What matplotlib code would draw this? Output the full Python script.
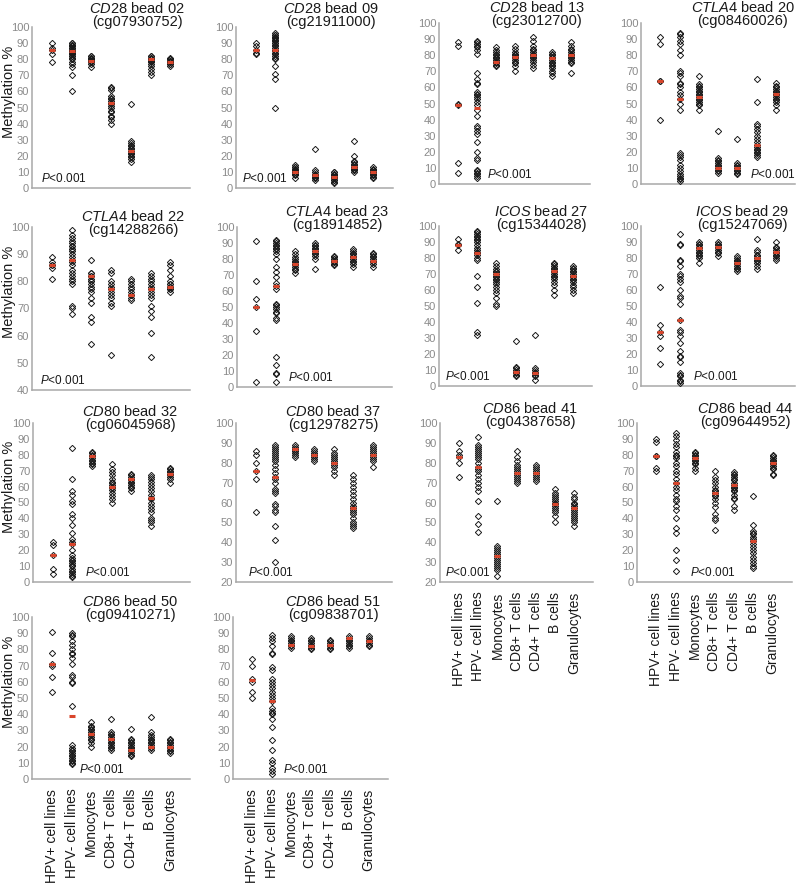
import matplotlib
matplotlib.use("Agg")
import matplotlib.pyplot as plt
import numpy as np

plt.rcParams['font.family'] = ['Liberation Sans', 'DejaVu Sans']
plt.rcParams['mathtext.fontset'] = 'custom'
plt.rcParams['mathtext.rm'] = 'Liberation Sans'
plt.rcParams['mathtext.it'] = 'Liberation Sans:italic'

groups = ['HPV+ cell lines', 'HPV- cell lines', 'Monocytes', 'CD8+ T cells',
          'CD4+ T cells', 'B cells', 'Granulocytes']

# methylation values per group, and the red medians
cd28_b02 = [[78, 83, 86, 87, 90],
            [60, 70, 75, 77, 78, 80, 81, 82, 83, 83, 84, 85, 85, 86, 86, 87, 87, 88, 88, 89, 89, 90, 90, 84, 82, 86],
            [75, 77, 78, 78, 79, 79, 80, 80, 80, 81, 81, 82, 82, 79, 80],
            [40, 42, 44, 45, 47, 48, 50, 51, 52, 53, 54, 55, 56, 57, 61, 62, 63],
            [16, 18, 19, 20, 21, 22, 22, 23, 24, 25, 26, 27, 28, 29, 52],
            [70, 72, 74, 76, 77, 78, 79, 80, 80, 81, 81, 82, 82, 79],
            [76, 77, 77, 78, 78, 79, 79, 80, 80, 81, 78, 79]]
cd28_b02_med = [86, 85, 79, 53, 23, 80, 78]

cd28_b09 = [[83, 84, 86, 88, 90],
            [50, 68, 71, 76, 80, 81, 82, 83, 84, 85, 86, 87, 88, 89, 90, 90, 91, 92, 92, 93, 93, 94, 94, 95, 95, 96],
            [6, 8, 9, 10, 10, 11, 11, 12, 12, 13, 13, 14, 9, 10],
            [5, 6, 6, 7, 7, 8, 8, 9, 10, 11, 24],
            [3, 4, 5, 5, 6, 6, 7, 7, 8, 8, 9, 10, 10],
            [10, 11, 11, 12, 12, 13, 13, 14, 15, 16, 17, 20, 29],
            [6, 7, 8, 8, 9, 9, 10, 10, 11, 11, 12, 13]]
cd28_b09_med = [86, 86, 10, 8, 7, 13, 10]

cd28_b13 = [[7, 13, 49, 50, 86, 88],
            [4, 5, 6, 7, 8, 9, 15, 16, 20, 26, 31, 33, 35, 36, 42, 46, 49, 51, 53, 54, 55, 56, 57, 62, 63, 65, 69, 81, 83, 85, 86, 87, 88, 89],
            [73, 74, 75, 76, 77, 78, 79, 80, 81, 82, 83, 85, 76, 78],
            [70, 73, 75, 76, 77, 78, 79, 80, 80, 81, 82, 84, 86],
            [72, 74, 76, 77, 78, 79, 80, 80, 81, 82, 83, 84, 86, 89, 91],
            [67, 69, 70, 72, 73, 74, 75, 76, 77, 78, 79, 80, 81, 82],
            [69, 75, 76, 77, 78, 79, 80, 80, 81, 82, 83, 84, 86, 88]]
cd28_b13_med = [49, 47, 76, 79, 80, 78, 80]

ctla4_b20 = [[40, 64, 64, 87, 91],
             [2, 3, 4, 5, 6, 8, 10, 12, 15, 17, 18, 19, 46, 50, 53, 55, 57, 60, 62, 63, 67, 69, 70, 80, 83, 87, 89, 91, 93, 94],
             [46, 49, 50, 51, 52, 53, 54, 55, 56, 57, 58, 59, 60, 61, 62, 67],
             [7, 8, 9, 10, 11, 12, 13, 14, 15, 16, 33],
             [6, 7, 8, 9, 10, 11, 12, 13, 28],
             [17, 18, 19, 20, 21, 22, 23, 24, 26, 28, 30, 32, 34, 36, 37, 51, 65],
             [46, 49, 51, 52, 53, 54, 55, 56, 57, 58, 59, 60, 61, 63]]
ctla4_b20_med = [64, 53, 54, 10, 10, 24, 56]

ctla4_b22 = [[81, 85, 86, 86, 87, 89],
             [68, 70, 71, 79, 80, 81, 82, 83, 84, 86, 87, 88, 89, 90, 91, 92, 93, 94, 95, 96, 97, 99, 92, 93],
             [57, 65, 67, 72, 74, 76, 77, 78, 79, 80, 80, 81, 82, 82, 83, 83, 88],
             [53, 71, 72, 74, 75, 76, 77, 78, 79, 80, 83, 84],
             [73, 74, 75, 75, 76, 77, 78, 79, 80, 81],
             [52, 61, 67, 69, 71, 74, 75, 76, 77, 78, 79, 80, 81, 82, 83],
             [76, 77, 77, 78, 78, 78, 79, 79, 80, 82, 84, 86, 87]]
ctla4_b22_med = [86, 88, 82, 77, 75, 77, 78]

ctla4_b23 = [[3, 35, 50, 55, 66, 91],
             [3, 8, 9, 14, 19, 42, 43, 46, 47, 49, 50, 51, 52, 61, 63, 65, 69, 72, 75, 80, 83, 85, 86, 87, 88, 89, 90, 91, 92],
             [71, 73, 74, 75, 76, 77, 78, 79, 80, 81, 83, 85],
             [74, 80, 82, 83, 84, 85, 86, 87, 88, 89, 90],
             [76, 77, 78, 78, 79, 79, 80, 80, 81, 82],
             [75, 77, 78, 79, 80, 81, 82, 83, 84, 85, 86],
             [75, 77, 78, 79, 80, 81, 82, 83, 84]]
ctla4_b23_med = [50, 63, 77, 85, 79, 81, 79]

icos_b27 = [[85, 88, 89, 92],
            [32, 34, 52, 62, 69, 79, 80, 82, 83, 84, 85, 86, 88, 90, 91, 92, 93, 94, 95, 96, 97],
            [50, 51, 55, 58, 60, 62, 64, 65, 66, 67, 68, 69, 70, 71, 72, 73, 75, 77],
            [6, 7, 8, 9, 9, 10, 11, 12, 28],
            [4, 6, 7, 8, 9, 10, 11, 32],
            [57, 60, 63, 65, 67, 68, 69, 70, 71, 72, 73, 74, 75, 76, 77],
            [58, 60, 62, 63, 65, 66, 67, 68, 69, 70, 71, 72, 73, 74, 75]]
icos_b27_med = [88, 83, 70, 9, 8, 72, 69]

icos_b29 = [[14, 24, 31, 34, 38, 62],
            [2, 3, 4, 6, 7, 8, 15, 18, 19, 22, 27, 31, 34, 35, 41, 51, 55, 56, 60, 65, 67, 69, 70, 75, 78, 79, 88, 89, 95],
            [77, 80, 81, 82, 83, 84, 85, 86, 87, 88, 89, 90],
            [81, 83, 84, 85, 86, 87, 88, 89, 90],
            [72, 73, 74, 75, 76, 77, 78, 79, 80, 81],
            [73, 75, 77, 78, 79, 80, 81, 82, 84, 85, 92],
            [79, 80, 81, 82, 83, 84, 85, 86, 87, 90]]
icos_b29_med = [34, 41, 86, 87, 77, 80, 84]

cd80_b32 = [[5, 8, 17, 23, 25],
            [3, 4, 5, 6, 7, 8, 10, 11, 12, 13, 14, 15, 17, 20, 24, 25, 27, 31, 36, 40, 43, 49, 51, 55, 57, 65, 84],
            [73, 74, 75, 76, 77, 78, 79, 80, 81, 82],
            [50, 52, 54, 56, 58, 59, 60, 61, 62, 63, 65, 67, 69, 71, 74],
            [57, 59, 60, 61, 62, 63, 64, 65, 66, 67, 68],
            [35, 38, 39, 40, 44, 46, 48, 50, 52, 53, 55, 57, 59, 61, 63, 65, 66, 67],
            [62, 65, 66, 67, 68, 69, 70, 71, 72]]
cd80_b32_med = [17, 24, 79, 60, 65, 53, 68]

cd80_b37 = [[55, 72, 76, 80, 84, 86],
            [30, 41, 48, 55, 56, 58, 59, 65, 66, 67, 70, 72, 73, 75, 77, 79, 81, 82, 83, 84, 85, 86, 87, 88, 89],
            [83, 84, 85, 86, 87, 88, 89, 86, 87],
            [81, 82, 83, 84, 85, 86, 87, 84],
            [74, 76, 78, 79, 80, 81, 82, 83, 84, 85, 87],
            [47, 48, 49, 50, 52, 54, 55, 56, 57, 58, 60, 62, 64, 66, 68, 70, 72, 74],
            [78, 81, 82, 83, 84, 85, 86, 87, 88, 89]]
cd80_b37_med = [76, 73, 87, 84, 80, 57, 84]

cd86_b41 = [[73, 80, 83, 84, 86, 90],
            [45, 49, 53, 61, 66, 68, 70, 72, 74, 76, 77, 78, 80, 82, 83, 84, 85, 86, 87, 88, 89, 93],
            [23, 26, 27, 28, 29, 30, 31, 32, 33, 34, 35, 36, 37, 38, 61],
            [70, 71, 72, 73, 74, 75, 76, 77, 78, 79, 81, 83, 86],
            [71, 72, 73, 74, 75, 76, 77, 78, 79],
            [50, 53, 55, 56, 57, 58, 59, 60, 61, 62, 63, 64, 65, 67],
            [48, 50, 51, 52, 53, 54, 55, 56, 57, 58, 59, 60, 62, 63, 65]]
cd86_b41_med = [83, 78, 33, 75, 75, 59, 57]

cd86_b44 = [[70, 72, 79, 79, 88, 90],
            [7, 14, 20, 31, 34, 40, 45, 48, 51, 52, 55, 58, 60, 62, 65, 68, 70, 73, 75, 78, 79, 80, 82, 85, 87, 89, 92, 94],
            [70, 72, 74, 75, 76, 77, 78, 79, 80, 81, 82],
            [33, 39, 40, 43, 47, 50, 52, 54, 55, 56, 57, 58, 60, 62, 64, 66, 70],
            [45, 48, 52, 53, 55, 57, 58, 59, 60, 61, 62, 64, 65, 66, 67, 68, 69],
            [9, 10, 12, 14, 16, 18, 20, 22, 24, 26, 27, 28, 30, 31, 32, 36, 54],
            [67, 68, 71, 72, 73, 74, 75, 76, 77, 78, 79, 80]]
cd86_b44_med = [79, 62, 78, 56, 61, 26, 75]

cd86_b50 = [[54, 63, 70, 71, 78, 91],
            [9, 10, 11, 12, 13, 14, 15, 16, 17, 18, 19, 21, 45, 59, 60, 63, 64, 71, 75, 77, 78, 80, 83, 85, 88, 89, 90],
            [20, 22, 24, 25, 26, 27, 28, 29, 30, 31, 32, 33, 35],
            [18, 19, 20, 21, 22, 23, 24, 25, 26, 27, 28, 29, 37],
            [14, 15, 16, 17, 18, 19, 20, 21, 22, 23, 24, 25, 31],
            [18, 19, 20, 21, 22, 23, 24, 25, 26, 27, 29, 38],
            [16, 17, 18, 19, 20, 21, 22, 23, 24, 25]]
cd86_b50_med = [71, 39, 28, 25, 18, 20, 20]

cd86_b51 = [[50, 54, 60, 62, 70, 74],
            [3, 5, 7, 10, 12, 18, 24, 32, 37, 40, 41, 42, 44, 48, 50, 52, 54, 56, 58, 60, 62, 67, 69, 77, 78, 82, 85, 87, 89],
            [81, 82, 83, 84, 85, 86, 87, 88],
            [80, 81, 82, 83, 84, 85, 86, 87],
            [80, 81, 82, 83, 84, 85, 86],
            [81, 82, 83, 84, 85, 86, 87, 88],
            [82, 83, 84, 85, 86, 87, 88]]
cd86_b51_med = [61, 48, 83, 82, 83, 87, 85]

genes = ['CD28', 'CD28', 'CD28', 'CTLA4', 'CTLA4', 'CTLA4', 'ICOS', 'ICOS',
         'CD80', 'CD80', 'CD86', 'CD86', 'CD86', 'CD86']
beads = ['02', '09', '13', '20', '22', '23', '27', '29', '32', '37', '41', '44', '50', '51']
probes = ['cg07930752', 'cg21911000', 'cg23012700', 'cg08460026', 'cg14288266',
          'cg18914852', 'cg15344028', 'cg15247069', 'cg06045968', 'cg12978275',
          'cg04387658', 'cg09644952', 'cg09410271', 'cg09838701']
y_low = [0, 0, 0, 0, 40, 0, 0, 0, 0, 20, 20, 0, 0, 0]

panel_data = [cd28_b02, cd28_b09, cd28_b13, ctla4_b20, ctla4_b22, ctla4_b23, icos_b27,
              icos_b29, cd80_b32, cd80_b37, cd86_b41, cd86_b44, cd86_b50, cd86_b51]
panel_med = [cd28_b02_med, cd28_b09_med, cd28_b13_med, ctla4_b20_med, ctla4_b22_med,
             ctla4_b23_med, icos_b27_med, icos_b29_med, cd80_b32_med, cd80_b37_med,
             cd86_b41_med, cd86_b44_med, cd86_b50_med, cd86_b51_med]

# layout in pixels: left, top, right, bottom of each plot box
W, H = 800, 889
boxes = [(32, 27, 190, 188), (236, 27, 393, 188), (439, 23, 590, 184), (641, 23, 795, 184),
         (32, 227, 190, 390), (237, 227, 392, 387), (439, 226, 592, 386), (641, 226, 795, 386),
         (33, 423, 190, 582), (236, 423, 392, 582), (440, 423, 593, 582), (637, 423, 792, 582),
         (32, 617, 190, 779), (233, 617, 388, 779)]
title_x = [137, 331, 537, 743, 133, 337, 541, 742, 130, 333, 530, 745, 130, 333]
title_y = [22, 22, 21, 21, 230, 225, 225, 225, 425, 425, 422, 422, 615, 615]
p_x = [0.06, 0.04, 0.32, 0.71, 0.05, 0.33, 0.04, 0.34, 0.33, 0.08, 0.03, 0.34, 0.30, 0.32]
with_xlabels = [10, 11, 12, 13]
with_ylabel = [0, 4, 8, 12]

fig = plt.figure(figsize=(8, 8.89), dpi=100)

for i in range(14):
    l, t, r, b = boxes[i]
    ax = fig.add_axes([l / W, 1 - b / H, (r - l) / W, (b - t) / H])
    for j, vals in enumerate(panel_data[i]):
        ax.plot([j + 1] * len(vals), vals, 'D', ms=3.2, mfc='none', mec='#1a1a1a',
                mew=0.7, clip_on=False, zorder=3)
    ax.plot(range(1, 8), panel_med[i], '_', ms=5, mew=2.2, color='#d9452b',
            clip_on=False, zorder=4)
    ax.set_xlim(0, 8)
    ax.set_ylim(y_low[i], 100)
    ax.set_yticks(np.arange(y_low[i], 101, 10))
    ax.set_xticks(range(1, 8))
    if i in with_xlabels:
        ax.set_xticklabels(groups, rotation=90, fontsize=10, color='#1a1a1a')
    else:
        ax.set_xticklabels([])
    ax.tick_params(axis='y', length=0, pad=2, labelsize=8, labelcolor='#8a8a8a')
    ax.tick_params(axis='x', length=0, pad=7)
    for s in ['top', 'right']:
        ax.spines[s].set_visible(False)
    for s in ['left', 'bottom']:
        ax.spines[s].set_color('#a8a8a8')
        ax.spines[s].set_linewidth(1.1)
    if i in with_ylabel:
        ax.set_ylabel('Methylation %', fontsize=10.5, color='#1a1a1a')
        ax.yaxis.set_label_coords((16 - l) / (r - l), 0.6)
    ax.text(p_x[i], 0.02, r'$\mathit{P}$<0.001', transform=ax.transAxes,
            fontsize=8.5, ha='left', va='bottom', color='#1a1a1a')
    fig.text(title_x[i] / W, 1 - (title_y[i] - 13.5) / H,
             r'$\mathit{' + genes[i] + '}$ bead ' + beads[i],
             fontsize=10.5, ha='center', va='center', color='#1a1a1a')
    fig.text(title_x[i] / W, 1 - title_y[i] / H, '(' + probes[i] + ')',
             fontsize=10.5, ha='center', va='center', color='#1a1a1a')

fig.savefig('out.png', dpi=100)
